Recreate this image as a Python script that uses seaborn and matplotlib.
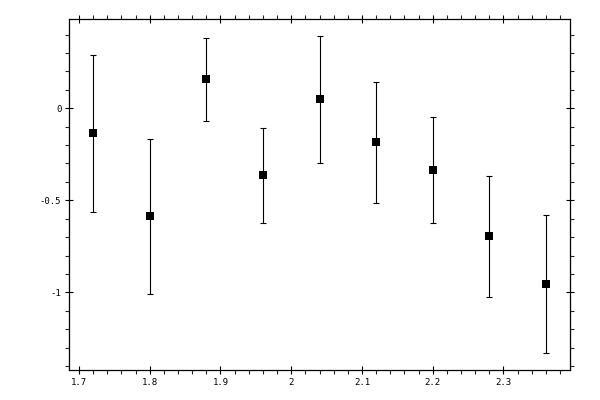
import matplotlib
matplotlib.use("Agg")
import matplotlib.pyplot as plt
import matplotlib.ticker as mticker
import seaborn as sns
import pandas as pd

# values
x_vals = [1.72, 1.80, 1.88, 1.96, 2.04, 2.12, 2.20, 2.28, 2.36]
y_vals = [-0.136, -0.587, 0.158, -0.364, 0.049, -0.185, -0.337, -0.696, -0.957]
y_err = [0.425, 0.421, 0.225, 0.258, 0.345, 0.330, 0.288, 0.327, 0.375]

df = pd.DataFrame({"x": x_vals, "y": y_vals, "err": y_err})

sns.set_style("ticks")
plt.rcParams["font.family"] = ["DejaVu Sans Mono"]
plt.rcParams["axes.unicode_minus"] = False

fig = plt.figure(figsize=(6, 4), dpi=100)
ax = fig.add_axes([0.115, 0.075, 0.835, 0.8775])

# error bars first, then the square markers on top
ax.errorbar(df["x"], df["y"], yerr=df["err"], fmt="none",
            ecolor="black", elinewidth=0.8, capsize=2.0, capthick=0.8, zorder=2)
sns.scatterplot(data=df, x="x", y="y", marker="s", s=28, color="black",
                edgecolor="black", linewidth=0, ax=ax, zorder=3)

ax.set_xlim(1.686, 2.394)
ax.set_ylim(-1.422, 0.485)
ax.set_xlabel("")
ax.set_ylabel("")

ax.xaxis.set_major_locator(mticker.MultipleLocator(0.1))
ax.xaxis.set_minor_locator(mticker.MultipleLocator(0.02))
ax.yaxis.set_major_locator(mticker.MultipleLocator(0.5))
ax.yaxis.set_minor_locator(mticker.MultipleLocator(0.1))
ax.xaxis.set_major_formatter(mticker.FormatStrFormatter("%g"))
ax.yaxis.set_major_formatter(mticker.FormatStrFormatter("%g"))

ax.tick_params(which="major", direction="inout", length=6, width=0.8,
               top=True, right=True, labelsize=6.5, pad=2.5, colors="black")
ax.tick_params(which="minor", direction="out", length=2.8, width=0.8,
               top=True, right=True)

for sp in ax.spines.values():
    sp.set_linewidth(0.9)
    sp.set_color("black")

fig.savefig("out.png", dpi=100)
